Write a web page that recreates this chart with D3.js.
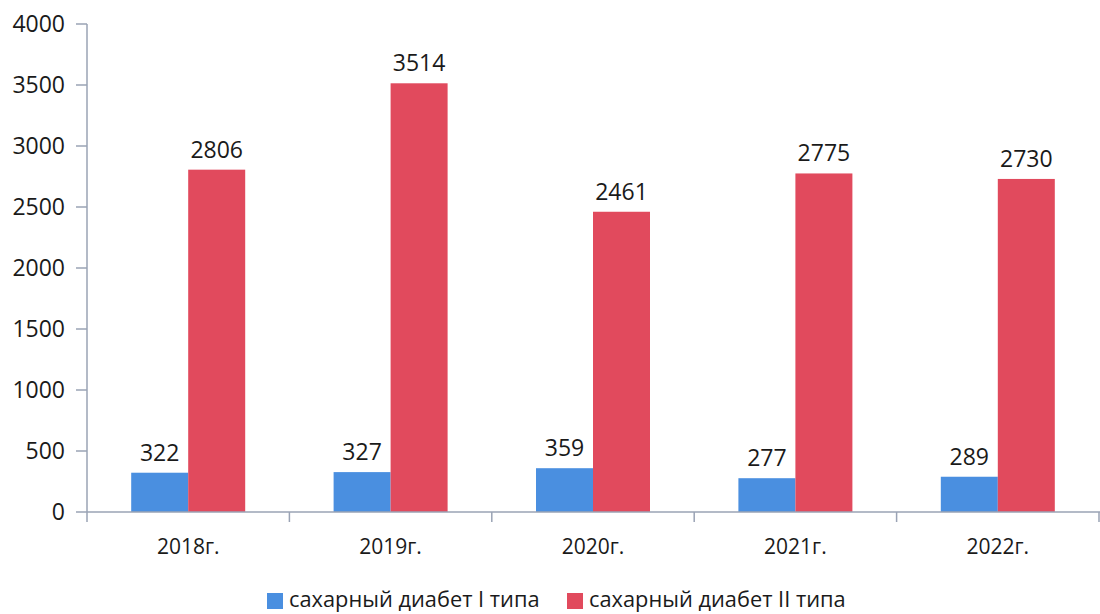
<!DOCTYPE html>
<html>
<head>
  <meta charset="utf-8">
  <script src="https://d3js.org/d3.v7.min.js"></script>
  <style>
    body { margin: 0; background: #fff; }
    text { font-family: "Open Sans", sans-serif; fill: #1a1a1a; }
  </style>
</head>
<body>
<script>
var years = ["2018г.", "2019г.", "2020г.", "2021г.", "2022г."];
var seriesNames = ["сахарный диабет I типа", "сахарный диабет II типа"];
var type1 = [322, 327, 359, 277, 289];
var type2 = [2806, 3514, 2461, 2775, 2730];
var yTicks = [0, 500, 1000, 1500, 2000, 2500, 3000, 3500, 4000];
var colors = ["#4a8fe0", "#e14a5d"];

var W = 1100, H = 614;
var svg = d3.select("body").append("svg").attr("width", W).attr("height", H);

var x = d3.scaleBand().domain(years).range([87, 1099]);
var y = d3.scaleLinear().domain([0, 4000]).range([512, 24]);
var barW = 57;

var axisColor = "#9aa3b5";

// y axis
svg.append("line").attr("x1", 87).attr("x2", 87).attr("y1", y(4000)).attr("y2", y(0))
  .attr("stroke", axisColor).attr("stroke-width", 1.5);
yTicks.forEach(function(t) {
  svg.append("line").attr("x1", 76).attr("x2", 87).attr("y1", y(t)).attr("y2", y(t))
    .attr("stroke", axisColor).attr("stroke-width", 1.5);
  svg.append("text").attr("x", 65).attr("y", y(t)).attr("dy", "0.36em")
    .attr("text-anchor", "end").attr("font-size", 23).text(t);
});

// bars
var data = years.map(function(d, i) { return {year: d, vals: [type1[i], type2[i]]}; });
var groups = svg.selectAll(".g").data(data).enter().append("g");
[0, 1].forEach(function(s) {
  groups.append("rect")
    .attr("x", function(d) { return x(d.year) + x.bandwidth() / 2 - barW + s * barW; })
    .attr("y", function(d) { return y(d.vals[s]); })
    .attr("width", barW)
    .attr("height", function(d) { return y(0) - y(d.vals[s]); })
    .attr("fill", colors[s]);
  groups.append("text")
    .attr("x", function(d) { return x(d.year) + x.bandwidth() / 2 - barW / 2 + s * barW; })
    .attr("y", function(d) { return y(d.vals[s]) - 12; })
    .attr("text-anchor", "middle").attr("font-size", 23)
    .text(function(d) { return d.vals[s]; });
});

// x axis
svg.append("line").attr("x1", 87).attr("x2", 1100).attr("y1", y(0)).attr("y2", y(0))
  .attr("stroke", axisColor).attr("stroke-width", 1.5);
years.concat(["end"]).forEach(function(d, i) {
  var xx = 87 + i * x.bandwidth();
  svg.append("line").attr("x1", xx).attr("x2", xx).attr("y1", y(0)).attr("y2", y(0) + 10)
    .attr("stroke", axisColor).attr("stroke-width", 1.5);
});
svg.selectAll(".xl").data(years).enter().append("text")
  .attr("x", function(d) { return x(d) + x.bandwidth() / 2; })
  .attr("y", 554).attr("text-anchor", "middle").attr("font-size", 21)
  .text(function(d) { return d; });

// legend
var legX = [267, 567];
seriesNames.forEach(function(n, i) {
  svg.append("rect").attr("x", legX[i]).attr("y", 593).attr("width", 16).attr("height", 16)
    .attr("fill", colors[i]);
  svg.append("text").attr("x", legX[i] + 22).attr("y", 607).attr("font-size", 21.8).text(n);
});
</script>
</body>
</html>
